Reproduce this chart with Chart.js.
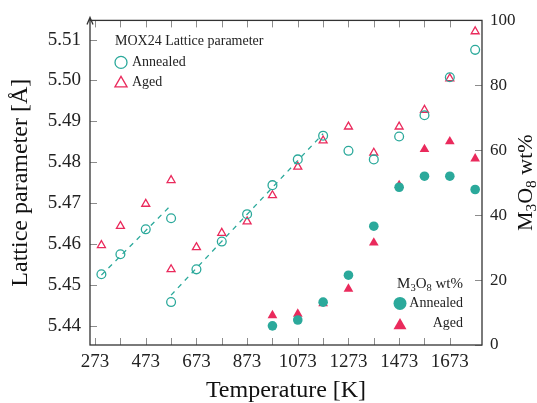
<!DOCTYPE html>
<html>
<head>
<meta charset="utf-8">
<script src="https://cdn.jsdelivr.net/npm/chart.js@4/dist/chart.umd.min.js"></script>
<style>
  html, body { margin: 0; padding: 0; background: #fff; }
  #wrap { width: 537px; height: 403px; }
</style>
</head>
<body>
<div id="wrap"><canvas id="chart" width="537" height="403"></canvas></div>
<script>
// lattice parameter (left axis, Å)
const annealedLatticeT = [298, 373, 473, 573, 573, 673, 773, 873, 973, 1073, 1173, 1273, 1373, 1473, 1573, 1673, 1773]
const annealedLattice = [5.4526, 5.4575, 5.4636, 5.4663, 5.4458, 5.4538, 5.4606, 5.4673, 5.4744, 5.4807, 5.4865, 5.4828, 5.4807, 5.4863, 5.4915, 5.5008, 5.5075]
const agedLatticeT = [298, 373, 473, 573, 573, 673, 773, 873, 973, 1073, 1173, 1273, 1373, 1473, 1573, 1673, 1773]
const agedLattice = [5.4597, 5.4644, 5.4698, 5.4756, 5.4538, 5.4592, 5.4627, 5.4655, 5.4719, 5.4789, 5.4853, 5.4887, 5.4823, 5.4887, 5.4928, 5.5005, 5.5120]

// M3O8 content (right axis, wt%)
const m3o8T = [973, 1073, 1173, 1273, 1373, 1473, 1573, 1673, 1773]
const annealedM3O8 = [5.9, 7.7, 13.2, 21.5, 36.6, 48.6, 52.0, 52.0, 47.9]
const agedM3O8 = [9.1, 9.6, 12.8, 17.3, 31.5, 49.2, 60.3, 62.7, 57.4]

// dashed linear fits through the annealed lattice points
const fit1T = [298, 573]
const fit1 = [5.4524, 5.4695]
const fit2T = [573, 1173]
const fit2 = [5.4475, 5.4870]

// axis ticks
const xTicks = [273, 373, 473, 573, 673, 773, 873, 973, 1073, 1173, 1273, 1373, 1473, 1573, 1673]
const xLabels = [273, 473, 673, 873, 1073, 1273, 1473, 1673]
const yTicks = [5.44, 5.45, 5.46, 5.47, 5.48, 5.49, 5.50, 5.51]
const y1Ticks = [0, 20, 40, 60, 80, 100]

const TEAL = '#2ba99b'
const PINK = '#ea2a5c'
const SERIF = 'Liberation Serif'
const TICK = 7

function pts(xs, ys) {
  return xs.map((x, i) => ({ x: x, y: ys[i] }))
}

function serif(size) {
  return size + 'px "' + SERIF + '"'
}

// text with subscript parts, e.g. M3O8
function drawParts(ctx, parts, x, y, size, align) {
  const widths = parts.map(([t, s]) => {
    ctx.font = serif(s ? size * 0.7 : size)
    return ctx.measureText(t).width
  })
  const total = widths.reduce((p, c) => p + c, 0)
  let cx = align === 'right' ? x - total : align === 'center' ? x - total / 2 : x
  ctx.textAlign = 'left'
  ctx.textBaseline = 'alphabetic'
  parts.forEach(([t, s], i) => {
    ctx.font = serif(s ? size * 0.7 : size)
    ctx.fillText(t, cx, s ? y + size * 0.2 : y)
    cx += widths[i]
  })
}

const m3o8Label = [['M', false], ['3', true], ['O', false], ['8', true], [' wt%', false]]

const decorations = {
  id: 'decorations',
  beforeDatasetsDraw(chart) {
    const { ctx, chartArea: a, scales } = chart
    ctx.save()
    ctx.strokeStyle = '#8c8c8c'
    ctx.lineWidth = 1
    ctx.beginPath()
    scales.x.ticks.forEach(t => {
      const px = Math.round(scales.x.getPixelForValue(t.value)) + 0.5
      ctx.moveTo(px, a.bottom); ctx.lineTo(px, a.bottom - TICK)
      ctx.moveTo(px, a.top); ctx.lineTo(px, a.top + TICK)
    })
    scales.y.ticks.forEach(t => {
      const py = Math.round(scales.y.getPixelForValue(t.value)) + 0.5
      ctx.moveTo(a.left, py); ctx.lineTo(a.left + TICK, py)
    })
    scales.y1.ticks.forEach(t => {
      const py = Math.round(scales.y1.getPixelForValue(t.value)) + 0.5
      ctx.moveTo(a.right, py); ctx.lineTo(a.right - TICK, py)
    })
    ctx.stroke()

    ctx.strokeStyle = '#333'
    ctx.lineWidth = 1.3
    ctx.strokeRect(a.left, a.top, a.right - a.left, a.bottom - a.top)
    // arrow head on the left axis
    ctx.beginPath()
    ctx.moveTo(a.left - 3, a.top + 4)
    ctx.lineTo(a.left, a.top - 3)
    ctx.lineTo(a.left + 3, a.top + 4)
    ctx.moveTo(a.left, a.top - 3)
    ctx.lineTo(a.left, a.top)
    ctx.stroke()
    ctx.restore()
  },
  afterDraw(chart) {
    const { ctx, chartArea: a } = chart
    const h = Chart.helpers
    ctx.save()
    ctx.fillStyle = '#222'

    // legend 1: lattice parameter
    ctx.font = serif(14)
    ctx.textAlign = 'left'
    ctx.textBaseline = 'middle'
    ctx.fillText('MOX24 Lattice parameter', a.left + 25, a.top + 21)
    ctx.fillText('Annealed', a.left + 42, a.top + 42)
    ctx.fillText('Aged', a.left + 42, a.top + 62)
    ctx.lineWidth = 1.3
    ctx.strokeStyle = TEAL
    ctx.fillStyle = 'rgba(0,0,0,0)'
    h.drawPoint(ctx, { pointStyle: 'circle', radius: 6, borderWidth: 1.3 }, a.left + 31, a.top + 42)
    ctx.strokeStyle = PINK
    h.drawPoint(ctx, { pointStyle: 'triangle', radius: 7, borderWidth: 1.3 }, a.left + 31, a.top + 63)

    // legend 2: M3O8 content
    ctx.fillStyle = '#222'
    drawParts(ctx, m3o8Label, a.left + 373, a.top + 268, 15, 'right')
    ctx.font = serif(14)
    ctx.textAlign = 'right'
    ctx.textBaseline = 'middle'
    ctx.fillText('Annealed', a.left + 373, a.top + 283)
    ctx.fillText('Aged', a.left + 373, a.top + 303)
    ctx.fillStyle = TEAL
    ctx.strokeStyle = TEAL
    h.drawPoint(ctx, { pointStyle: 'circle', radius: 6.5, borderWidth: 0 }, a.left + 310, a.top + 283)
    ctx.fillStyle = PINK
    ctx.strokeStyle = PINK
    h.drawPoint(ctx, { pointStyle: 'triangle', radius: 7.5, borderWidth: 0 }, a.left + 310, a.top + 305)

    // right axis title, reading bottom to top
    ctx.fillStyle = '#111'
    ctx.translate(a.right + 42, (a.top + a.bottom) / 2)
    ctx.rotate(-Math.PI / 2)
    drawParts(ctx, m3o8Label, 0, 8, 22, 'center')
    ctx.restore()
  }
}

new Chart(document.getElementById('chart'), {
  type: 'scatter',
  data: {
    datasets: [
      {
        label: 'fit 1',
        data: pts(fit1T, fit1),
        showLine: true,
        borderColor: TEAL,
        borderWidth: 1.3,
        borderDash: [5, 5],
        pointRadius: 0,
        yAxisID: 'y',
      },
      {
        label: 'fit 2',
        data: pts(fit2T, fit2),
        showLine: true,
        borderColor: TEAL,
        borderWidth: 1.3,
        borderDash: [5, 5],
        pointRadius: 0,
        yAxisID: 'y',
      },
      {
        label: 'Annealed',
        data: pts(annealedLatticeT, annealedLattice),
        pointStyle: 'circle',
        pointRadius: 4.4,
        borderColor: TEAL,
        backgroundColor: 'rgba(0,0,0,0)',
        borderWidth: 1.3,
        yAxisID: 'y',
      },
      {
        label: 'Aged',
        data: pts(agedLatticeT, agedLattice),
        pointStyle: 'triangle',
        pointRadius: 4.6,
        borderColor: PINK,
        backgroundColor: 'rgba(0,0,0,0)',
        borderWidth: 1.3,
        yAxisID: 'y',
      },
      {
        label: 'M3O8 Annealed',
        data: pts(m3o8T, annealedM3O8),
        pointStyle: 'circle',
        pointRadius: 4.8,
        borderWidth: 0,
        backgroundColor: TEAL,
        yAxisID: 'y1',
      },
      {
        label: 'M3O8 Aged',
        data: pts(m3o8T, agedM3O8),
        pointStyle: 'triangle',
        pointRadius: 5.6,
        borderWidth: 0,
        backgroundColor: PINK,
        yAxisID: 'y1',
      },
    ],
  },
  options: {
    responsive: false,
    animation: false,
    devicePixelRatio: 1,
    layout: { padding: { top: 20, left: 0, right: 0, bottom: 0 } },
    plugins: { legend: { display: false }, tooltip: { enabled: false } },
    scales: {
      x: {
        type: 'linear',
        min: 253,
        max: 1800,
        grid: { display: false, drawTicks: false },
        border: { display: false },
        afterBuildTicks: s => { s.ticks = xTicks.map(v => ({ value: v })) },
        afterFit: s => { s.height = 58 },
        ticks: {
          autoSkip: false,
          maxRotation: 0,
          padding: 6,
          color: '#222',
          font: { family: SERIF, size: 19 },
          callback: v => xLabels.includes(v) ? String(v) : '',
        },
        title: {
          display: true,
          text: 'Temperature [K]',
          color: '#111',
          padding: 0,
          font: { family: SERIF, size: 24, lineHeight: 1 },
        },
      },
      y: {
        position: 'left',
        min: 5.4353,
        max: 5.5147,
        grid: { display: false, drawTicks: false },
        border: { display: false },
        afterBuildTicks: s => { s.ticks = yTicks.map(v => ({ value: v })) },
        afterFit: s => { s.width = 90 },
        ticks: {
          padding: 9,
          color: '#222',
          font: { family: SERIF, size: 19 },
          callback: v => v.toFixed(2),
        },
        title: {
          display: true,
          text: 'Lattice parameter [Å]',
          color: '#111',
          padding: { top: 6, bottom: 0 },
          font: { family: SERIF, size: 24, lineHeight: 1.2 },
        },
      },
      y1: {
        position: 'right',
        min: 0,
        max: 100,
        grid: { display: false, drawTicks: false },
        border: { display: false },
        afterBuildTicks: s => { s.ticks = y1Ticks.map(v => ({ value: v })) },
        afterFit: s => { s.width = 55 },
        ticks: {
          padding: 8,
          color: '#222',
          font: { family: SERIF, size: 17 },
        },
      },
    },
  },
  plugins: [decorations],
})
</script>
</body>
</html>
